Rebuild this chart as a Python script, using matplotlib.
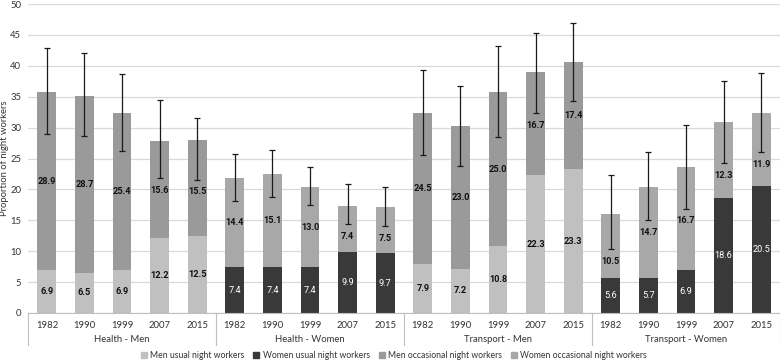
import matplotlib
matplotlib.use("Agg")
import matplotlib.pyplot as plt
import matplotlib.transforms as mtransforms
from matplotlib.patches import Patch
import numpy as np

years = ["1982", "1990", "1999", "2007", "2015"]
groups = ["Health - Men", "Health - Women", "Transport - Men", "Transport - Women"]
group_is_men = [True, False, True, False]

usual = [
    [6.9, 6.5, 6.9, 12.2, 12.5],
    [7.4, 7.4, 7.4, 9.9, 9.7],
    [7.9, 7.2, 10.8, 22.3, 23.3],
    [5.6, 5.7, 6.9, 18.6, 20.5],
]
occasional = [
    [28.9, 28.7, 25.4, 15.6, 15.5],
    [14.4, 15.1, 13.0, 7.4, 7.5],
    [24.5, 23.0, 25.0, 16.7, 17.4],
    [10.5, 14.7, 16.7, 12.3, 11.9],
]
ci_upper = [
    [42.9, 42.1, 38.7, 34.5, 31.5],
    [25.8, 26.4, 23.6, 20.8, 20.4],
    [39.4, 36.7, 43.2, 45.4, 47.0],
    [22.3, 26.1, 30.5, 37.5, 38.8],
]
ci_lower = [
    [29.0, 28.7, 26.3, 21.8, 21.6],
    [18.2, 18.8, 17.4, 14.4, 14.1],
    [25.5, 23.8, 28.5, 32.4, 34.3],
    [10.4, 15.1, 16.9, 24.3, 26.0],
]

legend_labels = ["Men usual night workers", "Women usual night workers",
                 "Men occasional night workers", "Women occasional night workers"]
c_men_usual = "#c0c0c0"
c_women_usual = "#393939"
c_men_occ = "#9a9a9a"
c_women_occ = "#a8a8a8"

plt.rcParams['font.family'] = ['Lato', 'DejaVu Sans']
fig = plt.figure(figsize=(7.8, 3.6), dpi=100)
ax = fig.add_axes([0.036, 0.1306, 0.964, 0.858])

n = len(years)
width = 0.5
for g in range(len(groups)):
    men = group_is_men[g]
    xs = np.arange(n) + g * n
    u = np.array(usual[g])
    o = np.array(occasional[g])
    lo = np.array(ci_lower[g])
    cu = c_men_usual if men else c_women_usual
    co = c_men_occ if men else c_women_occ
    ax.bar(xs, u, width=width, color=cu, zorder=2)
    ax.bar(xs, o, width=width, bottom=u, color=co, zorder=2)
    tot = u + o
    err = np.vstack([tot - lo, np.array(ci_upper[g]) - tot])
    ax.errorbar(xs, tot, yerr=err, fmt="none", ecolor="#1a1a1a", elinewidth=0.9,
                capsize=2.5, capthick=0.9, zorder=4)
    for x, uu, oo, l in zip(xs, u, o, lo):
        ax.text(x, uu / 2, f"{uu:.1f}", ha="center", va="center", fontsize=6.6,
                family=["Roboto", "DejaVu Sans"],
                color="#111111" if men else "white",
                fontweight="bold" if men else "normal", zorder=3)
        # keep the occasional label clear of the error bar's lower end
        ylab = min(uu + oo / 2, l - 2.0)
        ax.text(x, ylab, f"{oo:.1f}", ha="center", va="center", fontsize=6.6,
                family=["Roboto", "DejaVu Sans"],
                color="#111111", fontweight="bold", zorder=3)

ax.set_xlim(-0.5, len(groups) * n - 0.5)
ax.set_ylim(0, 50)
ax.set_yticks(np.arange(0, 51, 5))
ax.yaxis.grid(True, color="#d9d9d9", linewidth=0.9, zorder=0)
ax.set_axisbelow(True)
for s in ["top", "right", "left"]:
    ax.spines[s].set_visible(False)
ax.spines["bottom"].set_color("#bfbfbf")
ax.tick_params(axis="y", length=0, labelsize=6.8, colors="#333333", pad=5)
ax.set_xticks(np.arange(len(groups) * n))
ax.set_xticklabels(years * len(groups), fontsize=6.8, color="#333333")
ax.tick_params(axis="x", length=0, pad=6)
ax.set_ylabel("Proportion of night workers", fontsize=6.8, color="#333333", labelpad=1)

trans = mtransforms.blended_transform_factory(ax.transData, ax.transAxes)
for g in range(len(groups) + 1):
    xb = g * n - 0.5
    ax.plot([xb, xb], [0, -0.105], transform=trans, color="#bfbfbf", lw=0.8, clip_on=False)
for g, name in enumerate(groups):
    ax.text(g * n + (n - 1) / 2, -0.087, name, transform=trans, ha="center", va="center",
            fontsize=6.8, color="#333333")

handles = [Patch(color=c) for c in [c_men_usual, c_women_usual, c_men_occ, c_women_occ]]
fig.legend(handles, legend_labels, loc="center", bbox_to_anchor=(0.505, 0.012), ncol=4,
           frameon=False, fontsize=6.2, handlelength=0.7, handleheight=0.7,
           columnspacing=1.0, handletextpad=0.4, labelcolor="#333333")

fig.savefig("out.png", dpi=100)
